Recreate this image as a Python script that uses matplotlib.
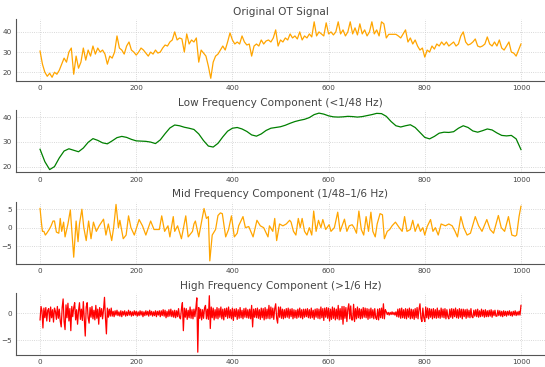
import numpy as np
import matplotlib
matplotlib.use("Agg")
import matplotlib.pyplot as plt

# Values (sample index on x, step noted per series)
ORIG_STEP = 5
original = [
    30.5, 24, 20, 18, 19.5, 17.5, 20, 19, 21, 24,
    27, 25, 30, 32, 19, 28, 22, 25, 32, 26,
    31, 28, 33, 29, 32, 30, 31, 29, 24, 28,
    27, 30, 38, 32, 31, 29, 33, 35, 31, 30,
    28.5, 30, 32, 31, 29.5, 28, 30, 29, 31, 29.5,
    30, 32, 33.5, 33, 35, 36, 40, 36, 37, 36.5,
    30, 39, 34, 36, 35, 37, 25, 31, 29.5, 28,
    23, 17, 25, 28, 29, 31, 33, 31, 35, 39.5,
    36, 34, 35, 34, 38, 35, 33.5, 34, 28, 33,
    34, 33, 36, 34, 35.5, 36, 35, 37, 41, 33,
    36, 35, 37, 36, 39, 37, 38, 36.5, 40, 36,
    38, 37, 39, 37.5, 45, 38, 40, 39, 38, 44.5,
    39, 40, 38.5, 40, 45, 39, 41, 38, 40, 45,
    39, 42, 38.5, 44, 39, 41, 38, 40, 45, 39,
    41, 38, 45, 44, 37, 38.8, 38.8, 38.8, 38.8, 38,
    37, 39, 41, 35, 37, 34, 36, 33, 31, 32,
    27.5, 31, 30, 33, 31.5, 34, 33, 35, 33.5, 35,
    33, 34, 35, 33, 34, 38, 40, 35, 33.5, 34,
    35, 36.5, 33, 32.5, 33, 34, 37.5, 34, 33, 35,
    33, 36, 32, 31, 33, 35, 30, 29.5, 28, 31,
    34,
]

LOW_STEP = 10
low_freq = [
    27, 22, 18.8, 20, 23.5, 26.3, 27.2, 26.6, 26, 27.5,
    29.8, 31.3, 30.6, 29.6, 29.2, 30.4, 31.7, 32.2, 31.8, 31,
    30.4, 30.3, 30.2, 29.9, 29.3, 30.8, 33.3, 35.6, 36.8, 36.5,
    35.9, 35.5, 35, 33.2, 30.5, 28.3, 27.9, 29.4, 32, 34.3,
    35.5, 35.8, 35.2, 34.2, 32.8, 32.3, 33.2, 34.6, 35.5, 35.8,
    36.1, 36.7, 37.5, 38.2, 38.7, 39.1, 39.8, 41, 41.6, 41.2,
    40.5, 40.1, 40, 40.1, 40.3, 40.2, 40, 40.2, 40.6, 41,
    41.5, 41.4, 40.3, 38.2, 36.5, 36, 36.5, 36.9, 35.8, 33.8,
    31.8, 31.2, 32.2, 33.5, 33.9, 33.8, 34.1, 35.5, 36.5, 35.8,
    34.4, 33.9, 34.5, 35.2, 34.8, 33.6, 32.6, 32.4, 32.6, 31.2,
    26.9,
]

mid_t = [
    0, 3, 5, 8, 11, 14, 19, 23, 27, 30, 34, 39, 42, 45, 49, 52, 58, 63,
    70, 75, 79, 82, 87, 91, 96, 101, 106, 111, 117, 123, 132, 137, 142,
    149, 153, 158, 163, 166, 173, 179, 184, 189, 196, 206, 213, 220, 230,
    237, 248, 253, 259, 266, 270, 277, 280, 286, 294, 303, 308, 317, 320,
    323, 330, 341, 346, 350, 353, 358, 365, 370, 375, 379, 386, 392, 398,
    404, 410, 413, 422, 427, 434, 443, 451, 458, 465, 474, 477, 484, 488,
    492, 498, 505, 512, 519, 522, 527, 532, 537, 541, 545, 550, 555, 560,
    565, 569, 574, 579, 584, 588, 594, 601, 605, 612, 619, 624, 628, 633,
    638, 643, 649, 653, 658, 663, 668, 673, 678, 683, 688, 692, 697, 701,
    707, 712, 716, 722, 727, 732, 739, 747, 753, 758, 763, 770, 775, 780,
    786, 791, 796, 800, 805, 812, 817, 822, 828, 834, 843, 850, 857, 863,
    868, 875, 881, 888, 895, 905, 912, 919, 929, 936, 943, 953, 959, 966,
    974, 981, 988, 991, 996, 1000,
]
mid_freq = [
    5.2, 1.2, -1.0, -1.0, -2.0, -1.5, -0.5, 0.5, 1.8, 1.8, -1.2, -1.5, 2.5,
    -1.0, 1.5, -2.5, 1.0, 4.8, -8.0, 1.8, -3.8, 1.0, 5.0, 0.0, -3.5, 1.8,
    -3.0, 1.5, -1.0, 0.5, 2.3, -2.0, 1.0, -3.5, 0.0, 6.3, 0.0, 2.0, -3.0,
    -2.0, 3.2, 0.0, -2.0, 2.2, 0.5, -2.0, 1.8, -0.5, -0.5, 3.2, -1.0, 0.5,
    -2.5, 3.0, -1.0, 0.5, -3.0, 3.2, -2.5, -1.0, 1.0, 1.8, -2.5, 5.2, 2.5,
    3.0, -9.0, -2.0, -0.5, 3.3, 4.0, 3.8, -2.5, -0.5, 3.2, -2.5, -1.5, 0.5,
    3.0, 0.0, 0.3, -2.5, 2.0, 0.5, 0.0, -2.5, 0.5, -1.0, 2.5, -3.5, 1.0,
    0.5, 1.0, 2.0, 1.5, -1.0, -2.0, 2.5, 0.0, 2.5, -1.0, -2.0, 0.0, -2.0,
    4.5, -1.0, 2.0, 0.0, 2.2, -0.5, 0.8, -1.0, 0.0, 4.2, -1.0, 0.5, 2.3,
    -1.0, 0.5, 0.8, 0.0, -1.5, 4.5, -0.5, -2.0, 3.0, -1.0, 4.2, -1.0, -2.5,
    1.0, 3.8, 3.5, -3.0, -1.0, -0.5, 0.5, 1.5, 0.0, -1.0, 3.0, -1.0, -0.5,
    2.0, -1.0, 1.0, -1.0, 0.0, -2.0, 0.3, 2.2, -1.0, 0.0, -2.0, 1.0, 0.5,
    1.0, 0.5, -1.0, -2.5, 3.0, 0.0, -2.0, -1.5, 3.0, 0.5, -1.0, 2.2, -0.5,
    -1.5, 3.3, 0.0, -1.0, 3.0, -2.0, -2.3, -2.0, 3.0, 5.8,
]

HIGH_STEP = 2
high_freq = [
    # 0 - 48
    -1.2, 1.3, 0.5, -2.7, 1.0, -0.8, 1.1, -1.4, 0.6, 0.9, -1.5, 1.2, -0.8,
    0.7, -1.6, 1.0, 0.4, -1.1, 1.3, -0.9, 0.8, -1.4, -2.5, 1.1, 2.7,
    # 50 - 98
    -1.5, -3.0, 1.6, -0.8, 1.9, -1.4, 0.9, -3.2, 1.3, -0.6, 1.1, 2.0, -1.2,
    0.7, -2.0, 0.5, 2.0, -1.1, 0.8, -1.3, 2.2, -0.9, -4.2, 1.2, 2.0,
    # 100 - 148
    -0.8, -1.8, 1.1, -0.7, 1.3, -1.0, 0.6, -1.2, 1.5, -0.9, 0.8, -2.0, 1.1,
    -0.6, 0.9, -1.0, 0.7, 3.0, -0.8, -3.8, 1.0, -0.7, 0.8, -0.5, 1.0,
    # 150 - 198
    -0.5, 0.4, -0.6, 0.5, -0.3, 0.6, -0.4, 0.3, -0.5, 0.5, -0.6, 0.4, -0.3,
    0.5, -0.5, 0.3, -0.4, 0.6, -0.3, 0.4, -0.5, 0.3, -0.4, 0.5, -0.3,
    # 200 - 248
    0.4, -0.5, 0.3, -0.4, 0.5, -0.3, 0.4, -0.6, 0.3, -0.4, 0.5, -0.3, 0.4,
    -0.5, 0.6, -0.3, 0.4, -0.5, 0.3, -0.4, 0.5, -0.6, 0.4, -0.3, 0.5,
    # 250 - 298
    -0.6, 0.5, -0.4, 0.7, -0.5, 0.6, -0.8, 0.4, -0.6, 0.7, -0.5, 0.8, -0.6,
    0.5, -0.7, 0.6, -0.8, 0.5, -0.6, 0.9, -0.7, -1.0, 0.8, 2.0, -3.2,
    # 300 - 348
    1.0, -0.7, 0.9, -1.1, 0.6, -0.8, 1.2, -0.9, 0.7, -1.0, 0.8, -0.6, 1.0,
    2.9, -7.2, 1.1, -0.9, 0.8, -1.2, 0.7, -0.9, 1.0, 1.5, -1.0, 0.8,
    # 350 - 398
    -1.1, 3.3, -2.8, 1.2, -0.8, 1.0, -1.2, 0.7, -0.9, 1.1, -1.0, 0.9, -0.7,
    1.2, -1.0, 0.8, -1.2, 0.9, -0.6, 1.0, -0.9, 1.2, -0.8, 0.7, -1.0,
    # 400 - 448
    1.0, -1.3, 0.8, -0.6, 0.9, -1.1, 0.7, -0.9, 1.1, -0.8, 0.6, -1.0, 0.9,
    -0.7, 1.0, -0.8, 0.7, -0.9, 0.8, -1.0, 1.5, -2.5, 0.8, -0.7, 0.9,
    # 450 - 498
    -0.8, 1.0, -0.9, 0.7, -1.1, 1.0, -0.8, 0.9, -1.2, 1.1, -1.0, 0.8, -0.9,
    1.5, -1.0, 1.2, -0.8, 1.0, -1.1, 0.9, 1.8, -0.9, -1.8, 1.2, -0.7,
    # 500 - 548
    1.2, -0.9, 0.8, -1.0, 0.7, -0.8, 0.9, -0.7, 1.0, -0.9, 0.8, -0.6, 0.9,
    -1.0, 0.7, -0.8, 0.6, -0.9, 0.8, -0.7, 1.0, -0.8, 0.7, -1.0, 0.8,
    # 550 - 598
    -0.7, 0.8, -0.6, 0.9, -0.8, 0.7, -0.9, 1.0, -0.8, 0.6, -1.1, 0.8, -0.7,
    0.9, -0.9, 0.8, -1.0, 1.2, -0.8, 0.9, -1.3, 1.0, -0.7, 1.1, -0.9,
    # 600 - 648
    1.0, -1.4, 0.8, -1.1, 1.2, -0.9, 1.0, -1.2, 0.8, -1.0, 1.5, -1.2, 0.9,
    -1.1, 1.3, -2.0, 1.3, -0.9, 1.1, -1.5, 0.8, 1.8, -1.0, 1.4, -1.2,
    # 650 - 698
    -1.2, 1.7, -1.5, 0.9, -1.0, 1.2, -0.8, 0.9, -1.0, 0.8, -0.9, 1.1, -0.7,
    1.0, -0.8, 0.9, -1.1, 0.8, -0.9, 1.0, -0.8, 0.7, -1.0, 0.9, -0.8,
    # 700 - 748
    -1.1, 0.8, -1.2, 0.9, -0.8, 1.0, -0.9, 1.8, -1.0, 0.7, 0.3, -0.2, 0.2,
    -0.3, 0.2, -0.2, 0.3, -0.2, 0.2, -0.3, 0.3, -0.6, 0.8, -0.7, 0.9,
    # 750 - 798
    -0.9, 1.0, -0.8, 0.7, -0.9, 0.9, -1.0, 0.8, -0.7, 1.0, -1.0, 0.8, -0.9,
    0.7, -1.1, 0.9, -0.8, 1.1, -1.0, 0.8, 1.8, -0.9, -1.5, 1.0, -0.8,
    # 800 - 848
    -1.5, 1.2, -0.8, 1.0, -1.0, 0.9, -0.7, 0.8, -1.0, 0.9, -0.8, 0.7, -0.9,
    1.0, -0.8, 0.6, -0.9, 1.0, -0.7, 0.8, -0.8, 0.9, -1.0, 0.7, -0.6,
    # 850 - 898
    -1.0, 0.8, -0.7, 0.9, -0.9, 0.8, -0.6, 1.0, -0.8, 0.7, -0.9, 0.9, -0.7,
    0.8, -1.0, 0.8, -0.6, 0.7, -0.9, 0.8, -0.7, 0.6, -0.8, 0.9, -0.6,
    # 900 - 948
    -0.8, 0.6, -0.5, 0.7, -0.6, 0.8, -0.7, 0.5, -0.6, 0.8, -0.5, 0.6, -0.7,
    0.7, -0.6, 0.5, -0.6, 0.6, -0.5, 0.7, -0.7, 0.5, -0.4, 0.6, -0.5,
    # 950 - 998
    -0.5, 0.6, -0.4, 0.5, -0.5, 0.4, -0.6, 0.5, -0.4, 0.4, -0.5, 0.4, -0.3,
    0.5, -0.4, 0.3, -0.5, 0.4, -0.3, 0.5, -0.4, 0.3, -0.3, 0.4, -0.3,
    # 1000
    1.5,
]

titles = [
    "Original OT Signal",
    "Low Frequency Component (<1/48 Hz)",
    "Mid Frequency Component (1/48\u20131/6 Hz)",
    "High Frequency Component (>1/6 Hz)",
]

series = [
    (np.arange(len(original)) * ORIG_STEP, original, "orange"),
    (np.arange(len(low_freq)) * LOW_STEP, low_freq, "green"),
    (mid_t, mid_freq, "orange"),
    (np.arange(len(high_freq)) * HIGH_STEP, high_freq, "red"),
]

fig, axes = plt.subplots(4, 1, figsize=(5.45, 3.67), dpi=100)
fig.subplots_adjust(left=16 / 545, right=1.0, top=1 - 19 / 367,
                    bottom=1 - 355 / 367, hspace=0.47)

for ax, title, (x, y, color) in zip(axes, titles, series):
    ax.plot(x, y, color=color, linewidth=0.9)
    ax.set_xlim(-50, 1050)
    ax.set_xticks([0, 200, 400, 600, 800, 1000])
    ax.set_title(title, fontsize=7.6, color="#444444", pad=3)
    ax.grid(True, linestyle=":", color="#cccccc", linewidth=0.6)
    for side in ("top", "right"):
        ax.spines[side].set_visible(False)
    for side in ("left", "bottom"):
        ax.spines[side].set_color("#555555")
        ax.spines[side].set_linewidth(0.8)
    ax.tick_params(labelsize=5.2, colors="#444444", length=0, pad=3)

axes[0].set_yticks([20, 30, 40])
axes[1].set_yticks([20, 30, 40])
axes[2].set_yticks([-5, 0, 5])
axes[3].set_yticks([-5, 0])

fig.savefig("out.png", dpi=100)
